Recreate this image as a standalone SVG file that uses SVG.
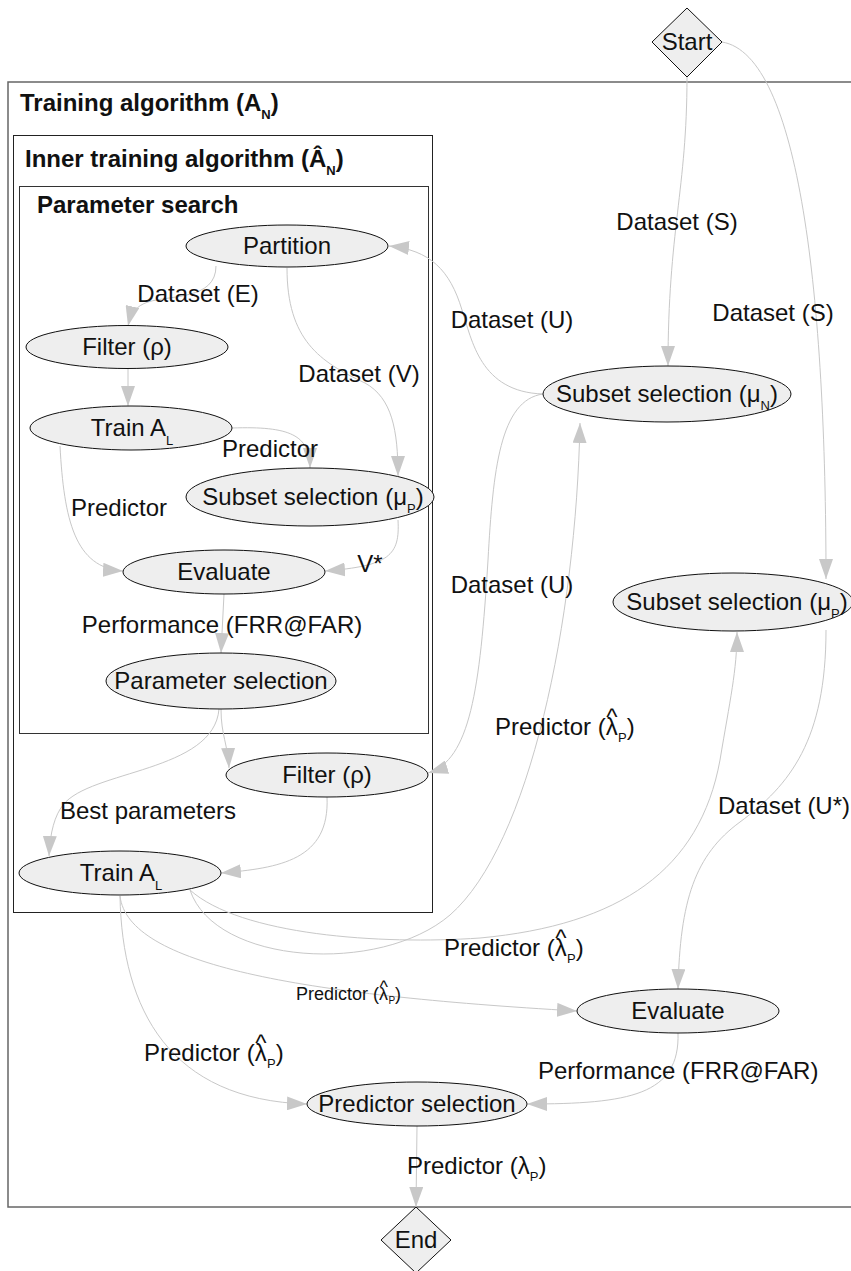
<svg xmlns="http://www.w3.org/2000/svg" width="851" height="1271" viewBox="0 0 851 1271">
  <style>
    text { font-family: "Liberation Sans", Arial, sans-serif; fill: #111; }
    .node { fill: #eeeeee; stroke: #111; stroke-width: 1; }
    .nl { font-size: 24px; text-anchor: middle; }
    .el { font-size: 24px; }
    .elc { font-size: 24px; text-anchor: middle; }
    .small { font-size: 18px; }
    .title { font-size: 24px; font-weight: bold; }
    .sub { font-size: 13px; }
    .edge { fill: none; stroke: #c8c8c8; stroke-width: 1; marker-end: url(#arrow); }
    .frame { fill: none; }
  </style>
  <defs>
    <marker id="arrow" markerUnits="userSpaceOnUse" markerWidth="20" markerHeight="14" viewBox="0 0 20 14" refX="20" refY="7" orient="auto">
      <path d="M0,0 L20,7 L0,14 z" fill="#c8c8c8"/>
    </marker>
  </defs>

  <!-- clusters -->
  <g id="training-algorithm">
    <rect class="frame" x="8" y="82" width="860" height="1125" stroke="#666" stroke-width="1.5"/>
    <text class="title" x="20" y="111">Training algorithm (A<tspan class="sub" dy="8">N</tspan><tspan dy="-8">)</tspan></text>
  </g>
  <g id="inner-training-algorithm">
    <rect class="frame" x="13.5" y="135.5" width="419" height="777" stroke="#222" stroke-width="1"/>
    <text class="title" x="25" y="167">Inner training algorithm (Â<tspan class="sub" dy="8">N</tspan><tspan dy="-8">)</tspan></text>
  </g>
  <g id="parameter-search">
    <rect class="frame" x="19.5" y="186.5" width="409" height="547" stroke="#333" stroke-width="1"/>
    <text class="title" x="37" y="213">Parameter search</text>
  </g>

  <!-- connectors -->
  <g id="connectors">
    <path class="edge" d="M687,77 C687,190 668,230 668,366"/>
    <path class="edge" d="M722,42 C800,55 826,300 826,579"/>
    <path class="edge" d="M543,394 C480,392 472,340 462,310 C450,270 430,250 389,246"/>
    <path class="edge" d="M543,394 C500,400 493,470 488,560 C480,690 470,760 428,773"/>
    <path class="edge" d="M190,890 C215,965 380,975 450,915 C530,845 576,620 580,423"/>
    <path class="edge" d="M190,890 C240,935 380,945 480,938 C620,925 700,870 720,760 C730,700 737,670 737,632"/>
    <path class="edge" d="M120,896 C128,965 300,995 577,1011"/>
    <path class="edge" d="M120,896 C122,1010 170,1100 307,1104"/>
    <path class="edge" d="M678,1033 C680,1095 630,1104 527,1104"/>
    <path class="edge" d="M417,1126 L416,1207"/>
    <path class="edge" d="M826,630 C826,740 790,785 740,822 C695,855 680,900 678,989"/>
    <path class="edge" d="M216,266 C216,300 170,295 148,302 C136,306 131,313 128,326"/>
    <path class="edge" d="M128,369 L128,406"/>
    <path class="edge" d="M232,428 C290,426 310,435 310,468"/>
    <path class="edge" d="M287,268 C287,340 320,362 365,383 C392,398 398,430 398,476"/>
    <path class="edge" d="M60,446 C64,520 75,568 123,571"/>
    <path class="edge" d="M398,520 C400,555 390,566 325,571"/>
    <path class="edge" d="M224,594 L221,653"/>
    <path class="edge" d="M221,709 C221,735 228,745 229,768"/>
    <path class="edge" d="M219,709 C214,772 90,770 63,805 C55,815 50,832 49,856"/>
    <path class="edge" d="M327,797 C330,860 280,868 221,873"/>

    <!-- edge labels -->
    <text class="elc" x="677" y="230">Dataset (S)</text>
    <text class="elc" x="773" y="321">Dataset (S)</text>
    <text class="elc" x="512" y="328">Dataset (U)</text>
    <text class="elc" x="198" y="302">Dataset (E)</text>
    <text class="elc" x="359" y="382">Dataset (V)</text>
    <text class="elc" x="270" y="457">Predictor</text>
    <text class="elc" x="119" y="516">Predictor</text>
    <text class="elc" x="370" y="572">V*</text>
    <text class="elc" x="222" y="633">Performance (FRR@FAR)</text>
    <text class="elc" x="148" y="819">Best parameters</text>
    <text class="elc" x="512" y="593">Dataset (U)</text>
    <text class="el" x="495" y="735">Predictor (λ<tspan dx="-11.5" dy="-10">^</tspan><tspan class="sub" dx="0.5" dy="17">P</tspan><tspan dy="-7">)</tspan></text>
    <text class="el" x="718" y="814">Dataset (U*)</text>
    <text class="el" x="444" y="956">Predictor (λ<tspan dx="-11.5" dy="-10">^</tspan><tspan class="sub" dx="0.5" dy="17">P</tspan><tspan dy="-7">)</tspan></text>
    <text class="small" x="296" y="1000">Predictor (λ<tspan dx="-8.6" dy="-7">^</tspan><tspan font-size="10" dx="0.5" dy="11">P</tspan><tspan dy="-4">)</tspan></text>
    <text class="el" x="144" y="1061">Predictor (λ<tspan dx="-11.5" dy="-10">^</tspan><tspan class="sub" dx="0.5" dy="17">P</tspan><tspan dy="-7">)</tspan></text>
    <text class="el" x="538" y="1079">Performance (FRR@FAR)</text>
    <text class="el" x="407" y="1174">Predictor (λ<tspan class="sub" dy="7">P</tspan><tspan dy="-7">)</tspan></text>
  </g>

  <!-- nodes -->
  <g id="start">
    <polygon class="node" points="687,8 722,42 687,77 652,42"/>
    <text class="nl" x="687" y="50">Start</text>
  </g>
  <g id="partition">
    <ellipse class="node" cx="287" cy="246" rx="101" ry="21"/>
    <text class="nl" x="287" y="254">Partition</text>
  </g>
  <g id="filter-inner">
    <ellipse class="node" cx="127" cy="347" rx="101" ry="21.5"/>
    <text class="nl" x="127" y="355">Filter (ρ)</text>
  </g>
  <g id="train-inner">
    <ellipse class="node" cx="131" cy="428" rx="101" ry="22"/>
    <text class="nl" x="132" y="436">Train A<tspan class="sub" dy="9">L</tspan></text>
  </g>
  <g id="subset-selection-inner">
    <ellipse class="node" cx="310" cy="497" rx="124" ry="29"/>
    <text class="nl" x="313" y="505">Subset selection (μ<tspan class="sub" dy="8">P</tspan><tspan dy="-8">)</tspan></text>
  </g>
  <g id="evaluate-inner">
    <ellipse class="node" cx="224" cy="572" rx="101" ry="22"/>
    <text class="nl" x="224" y="580">Evaluate</text>
  </g>
  <g id="parameter-selection">
    <ellipse class="node" cx="221" cy="681" rx="115" ry="28"/>
    <text class="nl" x="221" y="689">Parameter selection</text>
  </g>
  <g id="filter">
    <ellipse class="node" cx="327" cy="775" rx="101" ry="22"/>
    <text class="nl" x="327" y="783">Filter (ρ)</text>
  </g>
  <g id="train">
    <ellipse class="node" cx="120" cy="873" rx="101" ry="22"/>
    <text class="nl" x="121" y="881">Train A<tspan class="sub" dy="9">L</tspan></text>
  </g>
  <g id="subset-selection-n">
    <ellipse class="node" cx="667" cy="394" rx="124" ry="28"/>
    <text class="nl" x="667" y="402">Subset selection (μ<tspan class="sub" dy="8">N</tspan><tspan dy="-8">)</tspan></text>
  </g>
  <g id="subset-selection-p">
    <ellipse class="node" cx="733" cy="602" rx="120" ry="29"/>
    <text class="nl" x="737" y="610">Subset selection (μ<tspan class="sub" dy="8">P</tspan><tspan dy="-8">)</tspan></text>
  </g>
  <g id="evaluate">
    <ellipse class="node" cx="678" cy="1011" rx="101" ry="22"/>
    <text class="nl" x="678" y="1019">Evaluate</text>
  </g>
  <g id="predictor-selection">
    <ellipse class="node" cx="417" cy="1104" rx="110" ry="22"/>
    <text class="nl" x="417" y="1112">Predictor selection</text>
  </g>
  <g id="end">
    <polygon class="node" points="416,1207 451,1240 416,1273 381,1240"/>
    <text class="nl" x="416" y="1248">End</text>
  </g>
</svg>
